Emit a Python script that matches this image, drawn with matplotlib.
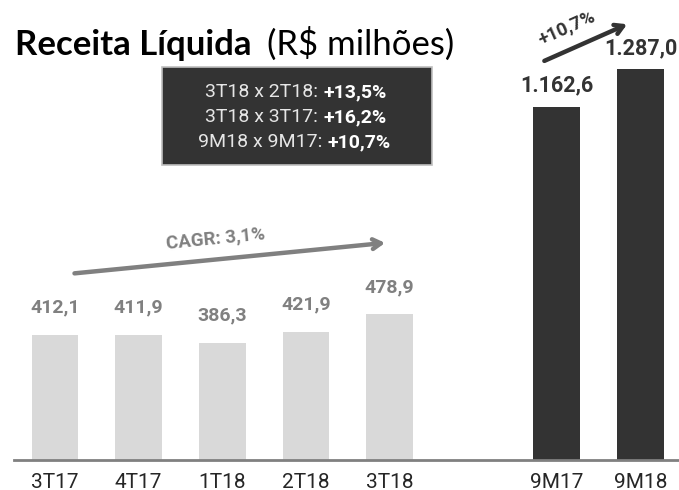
import matplotlib
matplotlib.use('Agg')
import matplotlib.pyplot as plt

# data
periods = ['3T17', '4T17', '1T18', '2T18', '3T18', '9M17', '9M18']
positions = [0, 1, 2, 3, 4, 6, 7]
receita = [412.1, 411.9, 386.3, 421.9, 478.9, 1162.6, 1287.0]
is_ytd = [False, False, False, False, False, True, True]

box_lines = [('3T18 x 2T18: ', '+13,5%'),
             ('3T18 x 3T17: ', '+16,2%'),
             ('9M18 x 9M17: ', '+10,7%')]
cagr_text = 'CAGR: 3,1%'
ytd_text = '+10,7%'

light = '#d9d9d9'
dark = '#333333'
gray = '#808080'


def fmt_br(v):
    s = '{:,.1f}'.format(v)
    return s.replace(',', '#').replace('.', ',').replace('#', '.')


W, H = 679, 490
fig = plt.figure(figsize=(W / 100, H / 100), dpi=100)
ax = fig.add_axes([14 / W, 30 / H, 665 / W, 460 / H])
ax.set_xlim(-0.49, 7.46)
ax.set_ylim(0, 1513)

colors = [dark if y else light for y in is_ytd]
ax.bar(positions, receita, width=0.56, color=colors, zorder=2)

for x, v, y in zip(positions, receita, is_ytd):
    ax.annotate(fmt_br(v), (x, v), xytext=(0, 7 if y else 13), textcoords='offset points',
                ha='center', va='bottom', fontsize=15.5 if y else 14, fontweight='bold',
                color=dark if y else gray, family='Roboto')

ax.set_xticks(positions)
ax.set_xticklabels(periods, family='Roboto', fontsize=15, color='#262626')
ax.tick_params(axis='x', length=0, pad=9)
ax.set_yticks([])
for s in ['top', 'left', 'right']:
    ax.spines[s].set_visible(False)
ax.spines['bottom'].set_color(gray)
ax.spines['bottom'].set_linewidth(2)

# CAGR arrow
ax.annotate('', xy=(3.98, 715), xytext=(0.2, 613),
            arrowprops=dict(arrowstyle='->,head_length=0.6,head_width=0.35', color=gray, lw=3.2))
ax.text(1.92, 727, cagr_text, rotation=5.6, ha='center', va='center', fontsize=13.5,
        fontweight='bold', color=gray, family='Roboto', rotation_mode='anchor')

# 9M arrow
ax.annotate('', xy=(6.87, 1437), xytext=(5.82, 1309),
            arrowprops=dict(arrowstyle='->,head_length=0.6,head_width=0.35', color=dark, lw=3.2))
ax.text(6.12, 1420, ytd_text, rotation=24, ha='center', va='center', fontsize=13.5,
        fontweight='bold', color=dark, family='Roboto', rotation_mode='anchor')

# title
fig.text(15 / W, 1 - 55 / H, 'Receita Líquida', fontsize=25, fontweight='bold',
         family='Lato', color='black', va='baseline')
fig.text(267 / W, 1 - 55 / H, '(R$ milhões)', fontsize=25, family='Lato',
         color='black', va='baseline')

# comparison box
box = plt.Rectangle((162 / W, 1 - 165 / H), 270 / W, 98 / H, transform=fig.transFigure,
                    facecolor=dark, edgecolor='#bfbfbf', lw=1.2)
fig.patches.append(box)
split_x = [323, 323, 327]
line_y = [92, 117, 142]
for (a, b), sx, ly in zip(box_lines, split_x, line_y):
    fig.text(sx / W, 1 - ly / H, a, ha='right', va='center', fontsize=14,
             family='Roboto', color='#e6e6e6')
    fig.text(sx / W, 1 - ly / H, b, ha='left', va='center', fontsize=14,
             family='Roboto', fontweight='bold', color='white')

fig.savefig('out.png', dpi=100)
